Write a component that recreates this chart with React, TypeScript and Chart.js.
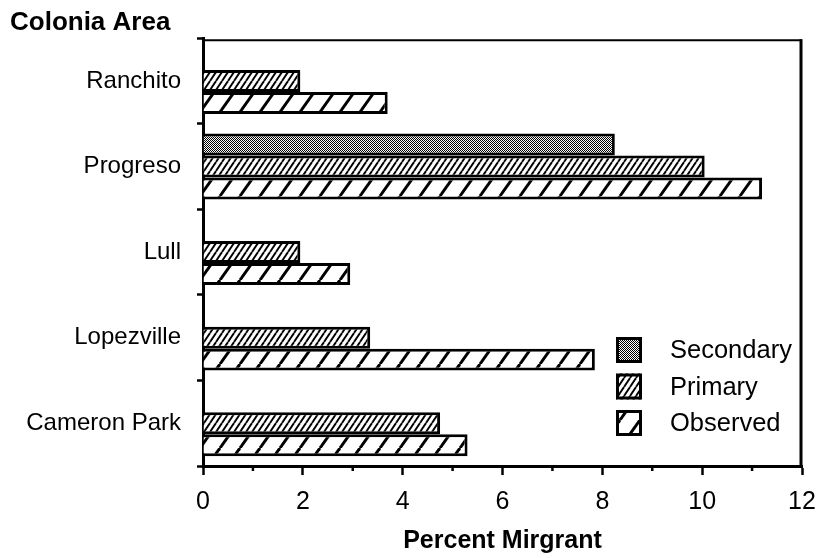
import React, { useEffect, useRef } from 'react';
import { Chart, registerables } from 'chart.js';

Chart.register(...registerables);

const categories = ['Ranchito', 'Progreso', 'Lull', 'Lopezville', 'Cameron Park'];
const seriesNames = ['Secondary', 'Primary', 'Observed'];
const secondaryValues = [null, 8.25, null, null, null];
const primaryValues = [1.95, 10.05, 1.95, 3.35, 4.75];
const observedValues = [3.7, 11.2, 2.95, 7.85, 5.3];
const xMin = 0;
const xMax = 12;
const xStep = 1;
const xTickLabels = ['0', '2', '4', '6', '8', '10', '12'];
const chartTitle = 'Colonia Area';
const xAxisTitle = 'Percent Mirgrant';

const FONT = '"Liberation Sans", Arial, sans-serif';

function makeStipple(): CanvasPattern {
  const c = document.createElement('canvas');
  c.width = 2;
  c.height = 2;
  const g = c.getContext('2d')!;
  g.fillStyle = '#fff';
  g.fillRect(0, 0, 2, 2);
  g.fillStyle = '#000';
  g.fillRect(0, 0, 1, 1);
  g.fillRect(1, 1, 1, 1);
  return g.createPattern(c, 'repeat')!;
}

function makeHatch(w: number, h: number, lw: number): CanvasPattern {
  const c = document.createElement('canvas');
  c.width = w;
  c.height = h;
  const g = c.getContext('2d')!;
  g.fillStyle = '#fff';
  g.fillRect(0, 0, w, h);
  g.strokeStyle = '#000';
  g.lineWidth = lw;
  for (const dx of [-w, 0, w]) {
    g.beginPath();
    g.moveTo(dx, h);
    g.lineTo(dx + w, 0);
    g.stroke();
  }
  return g.createPattern(c, 'repeat')!;
}

export default function App() {
  const ref = useRef<HTMLCanvasElement>(null);

  useEffect(() => {
    if (!ref.current) return;
    const patterns = [makeStipple(), makeHatch(6, 9, 1.9), makeHatch(20, 28, 3)];

    const framePlugin = {
      id: 'frame',
      afterDraw(chart: any) {
        const { ctx, chartArea } = chart;
        const xs = chart.scales.x;
        ctx.save();
        ctx.strokeStyle = '#000';
        // top and right border
        ctx.lineWidth = 2;
        ctx.beginPath();
        ctx.moveTo(chartArea.left, chartArea.top + 2);
        ctx.lineTo(chartArea.right, chartArea.top + 2);
        ctx.stroke();
        ctx.lineWidth = 3;
        ctx.beginPath();
        ctx.moveTo(chartArea.right - 1, chartArea.top + 1);
        ctx.lineTo(chartArea.right - 1, chartArea.bottom);
        ctx.stroke();
        // minor ticks at odd values
        ctx.lineWidth = 2.5;
        for (let v = xMin; v <= xMax; v += xStep) {
          if (v % 2 === 1) {
            const px = xs.getPixelForValue(v);
            ctx.beginPath();
            ctx.moveTo(px, chartArea.bottom);
            ctx.lineTo(px, chartArea.bottom + 5);
            ctx.stroke();
          }
        }
        // legend
        const x0 = chartArea.right - 186;
        const y0 = chartArea.bottom - 129;
        const size = 26;
        const gap = 36.5;
        seriesNames.forEach((name, i) => {
          const y = y0 + i * gap;
          ctx.fillStyle = patterns[i];
          ctx.fillRect(x0, y, size, size);
          ctx.lineWidth = 3;
          ctx.strokeStyle = '#000';
          ctx.strokeRect(x0 + 1.5, y + 1.5, size - 3, size - 3);
          ctx.fillStyle = '#000';
          ctx.font = `25.5px ${FONT}`;
          ctx.textBaseline = 'middle';
          ctx.textAlign = 'left';
          ctx.fillText(name, x0 + 54, y + size / 2 + 1);
        });
        ctx.restore();
      },
    };

    const chart = new Chart(ref.current, {
      type: 'bar',
      data: {
        labels: categories,
        datasets: [
          { label: seriesNames[0], data: secondaryValues as any },
          { label: seriesNames[1], data: primaryValues },
          { label: seriesNames[2], data: observedValues },
        ].map((d, i) => ({
          ...d,
          backgroundColor: patterns[i],
          borderColor: '#000',
          borderWidth: 3,
          categoryPercentage: 0.77,
          barPercentage: 1.0,
        })),
      },
      options: {
        indexAxis: 'y',
        animation: false,
        responsive: false,
        layout: { padding: { left: 10, right: 20, top: 0, bottom: 0 } },
        plugins: {
          legend: { display: false },
          tooltip: { enabled: false },
          title: {
            display: true,
            text: chartTitle,
            align: 'start',
            color: '#000',
            font: { family: FONT, size: 26, weight: 'bold' },
            padding: { top: 7, bottom: 0 },
          },
        },
        scales: {
          x: {
            type: 'linear',
            min: xMin,
            max: xMax,
            ticks: {
              stepSize: xStep,
              color: '#000',
              font: { family: FONT, size: 25 },
              padding: 12,
              maxRotation: 0,
              autoSkip: false,
              callback: (v: any) => (xTickLabels.includes(String(v)) ? String(v) : ''),
            },
            grid: {
              drawOnChartArea: false,
              drawTicks: true,
              tickLength: 9,
              tickWidth: 2.5,
              tickColor: (c: any) => (c.tick && c.tick.value % 2 === 1 ? 'rgba(0,0,0,0)' : '#000'),
            },
            border: { display: true, color: '#000', width: 3 },
            title: {
              display: true,
              text: xAxisTitle,
              color: '#000',
              font: { family: FONT, size: 25, weight: 'bold' },
              padding: { top: 0, bottom: 2 },
            },
            afterFit: (s: any) => {
              s.height = 92;
              s.paddingLeft = 0;
              s.paddingRight = 0;
            },
          },
          y: {
            type: 'category',
            ticks: {
              color: '#000',
              font: { family: FONT, size: 24 },
              padding: 16,
            },
            grid: {
              drawOnChartArea: false,
              drawTicks: true,
              tickLength: 6,
              tickWidth: 2.5,
              tickColor: '#000',
            },
            border: { display: true, color: '#000', width: 3 },
            afterFit: (s: any) => {
              s.width = 193;
              s.paddingTop = 0;
              s.paddingBottom = 0;
            },
          },
        },
      } as any,
      plugins: [framePlugin],
    });

    return () => chart.destroy();
  }, []);

  return (
    <div style={{ position: 'fixed', left: 0, top: 0, width: 822, height: 558, background: '#fff' }}>
      <canvas ref={ref} width={822} height={558} style={{ display: 'block' }} />
    </div>
  );
}
